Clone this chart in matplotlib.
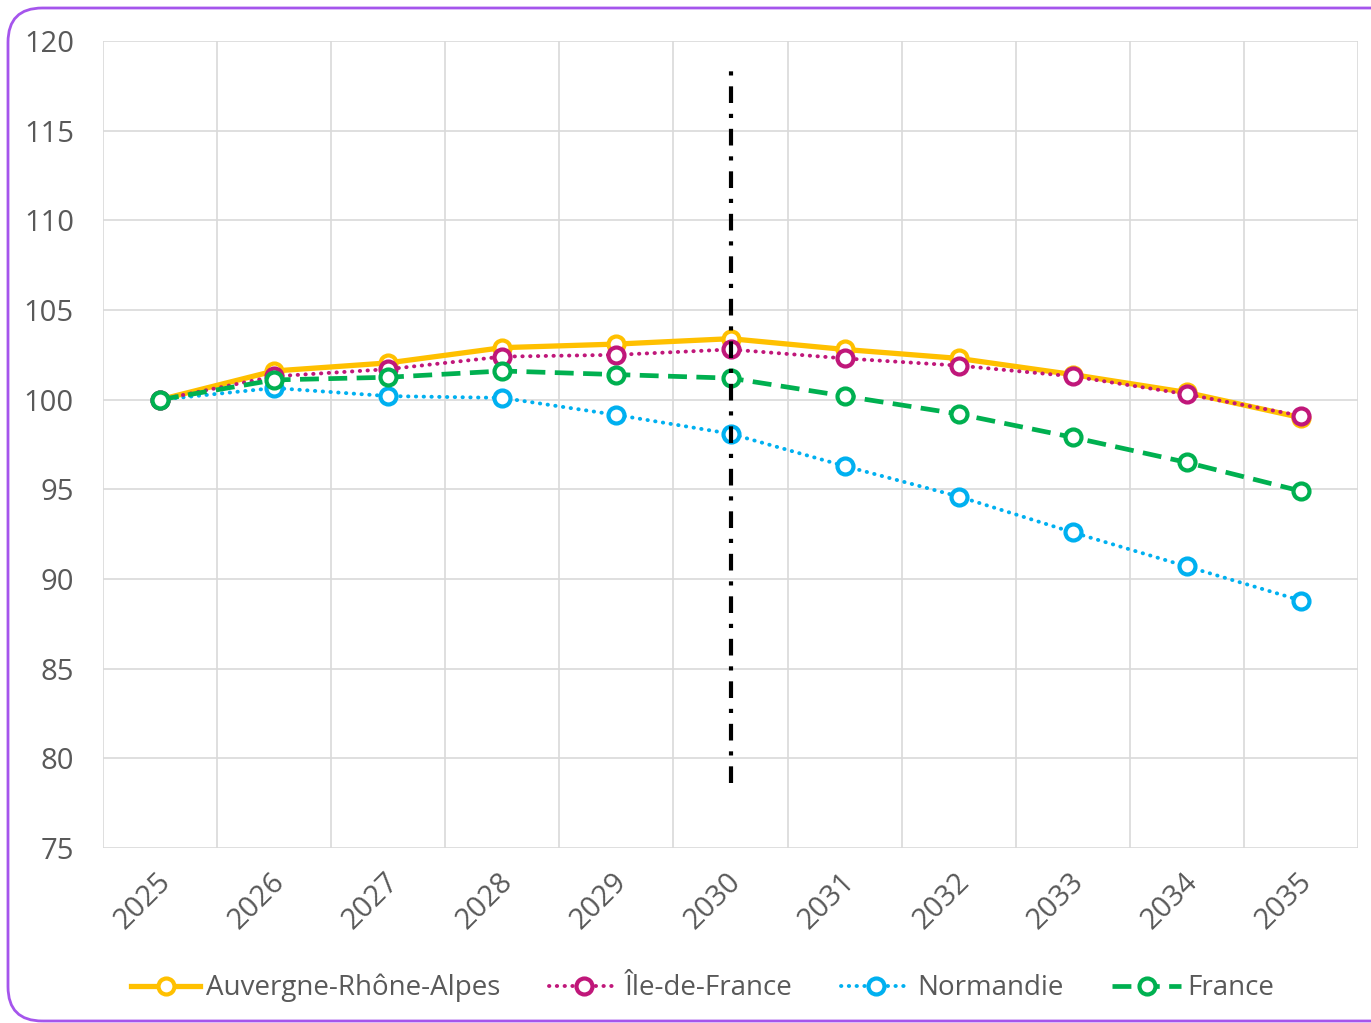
import matplotlib
matplotlib.use("Agg")
import matplotlib.pyplot as plt
from matplotlib.patches import FancyBboxPatch
from matplotlib.lines import Line2D

years = ["2025", "2026", "2027", "2028", "2029", "2030", "2031", "2032", "2033", "2034", "2035"]
auvergne = [100.0, 101.6, 102.05, 102.9, 103.1, 103.4, 102.8, 102.3, 101.4, 100.4, 99.0]
idf = [100.0, 101.3, 101.7, 102.4, 102.5, 102.8, 102.3, 101.9, 101.3, 100.3, 99.1]
normandie = [100.0, 100.65, 100.2, 100.1, 99.15, 98.1, 96.3, 94.6, 92.6, 90.7, 88.8]
france = [100.0, 101.1, 101.25, 101.6, 101.4, 101.2, 100.2, 99.2, 97.9, 96.5, 94.9]
series_names = ["Auvergne-Rhône-Alpes", "Île-de-France", "Normandie", "France"]
yticks = [75, 80, 85, 90, 95, 100, 105, 110, 115, 120]
vline_year = "2030"
vline_range = (78.6, 118.3)

plt.rcParams['font.family'] = ['Open Sans', 'DejaVu Sans']
txt = '#595959'

fig = plt.figure(figsize=(13.71, 10.23), dpi=100)
ax = fig.add_axes([103/1371, 1-848/1023, (1358-103)/1371, (848-41)/1023])

x = list(range(len(years)))
ms = 11.5
mew = 3.0
dot = (0, (0.1, 1.9))
styles = [
    dict(color='#FFC000', lw=3.8, ls='-'),
    dict(color='#C0177A', lw=2.8, ls=dot, dash_capstyle='round'),
    dict(color='#00B0F0', lw=2.8, ls=dot, dash_capstyle='round'),
    dict(color='#00B050', lw=3.4, ls=(0, (4, 2))),
]
for vals, st, z in zip([auvergne, idf, normandie, france], styles, [3, 4, 3, 5]):
    ax.plot(x, vals, marker='o', ms=ms, mfc='white', mec=st['color'], mew=mew, zorder=z, **st)

vx = years.index(vline_year)
ax.plot([vx, vx], list(vline_range), color='black', lw=3.0, ls=(0, (4, 2.6, 1, 2.6)), zorder=6)

ax.set_xlim(-0.5, len(years) - 0.5)
ax.set_ylim(75, 120)
ax.set_yticks(yticks)
ax.set_xticks(x)
ax.set_xticklabels(years, rotation=45, ha='right', va='top', rotation_mode='anchor')
ax.set_xticks([i + 0.5 for i in range(-1, len(years))], minor=True)
ax.grid(False)
ax.grid(True, which='minor', axis='x', color='#D9D9D9', lw=1.2)
ax.grid(True, which='major', axis='y', color='#D9D9D9', lw=1.2)
ax.set_axisbelow(True)
for s in ax.spines.values():
    s.set_visible(False)
ax.tick_params(axis='both', which='both', length=0, labelsize=21, labelcolor=txt)
ax.tick_params(axis='y', pad=21)
ax.tick_params(axis='x', pad=14)
for lbl in ax.get_xticklabels():
    lbl.set_transform(lbl.get_transform() + matplotlib.transforms.ScaledTranslation(-4/100, 0, fig.dpi_scale_trans))

handles = [Line2D([], [], marker='o', ms=ms, mfc='white', mec=st['color'], mew=mew, **st) for st in styles]
leg = fig.legend(handles, series_names, loc='center', bbox_to_anchor=(0.5125, 1-988/1023),
                 ncol=4, frameon=False, fontsize=20, handlelength=2.5, handletextpad=0.22,
                 columnspacing=1.75, labelcolor=txt)

frame = FancyBboxPatch((8/1371, 2/1023), 1.2, (1015-2)/1023, transform=fig.transFigure,
                       boxstyle='round,pad=0,rounding_size=0.025', fc='none', ec='#A555EC',
                       lw=2, zorder=10, mutation_aspect=1371/1023)
fig.patches.append(frame)

fig.savefig('out.png', dpi=100)
